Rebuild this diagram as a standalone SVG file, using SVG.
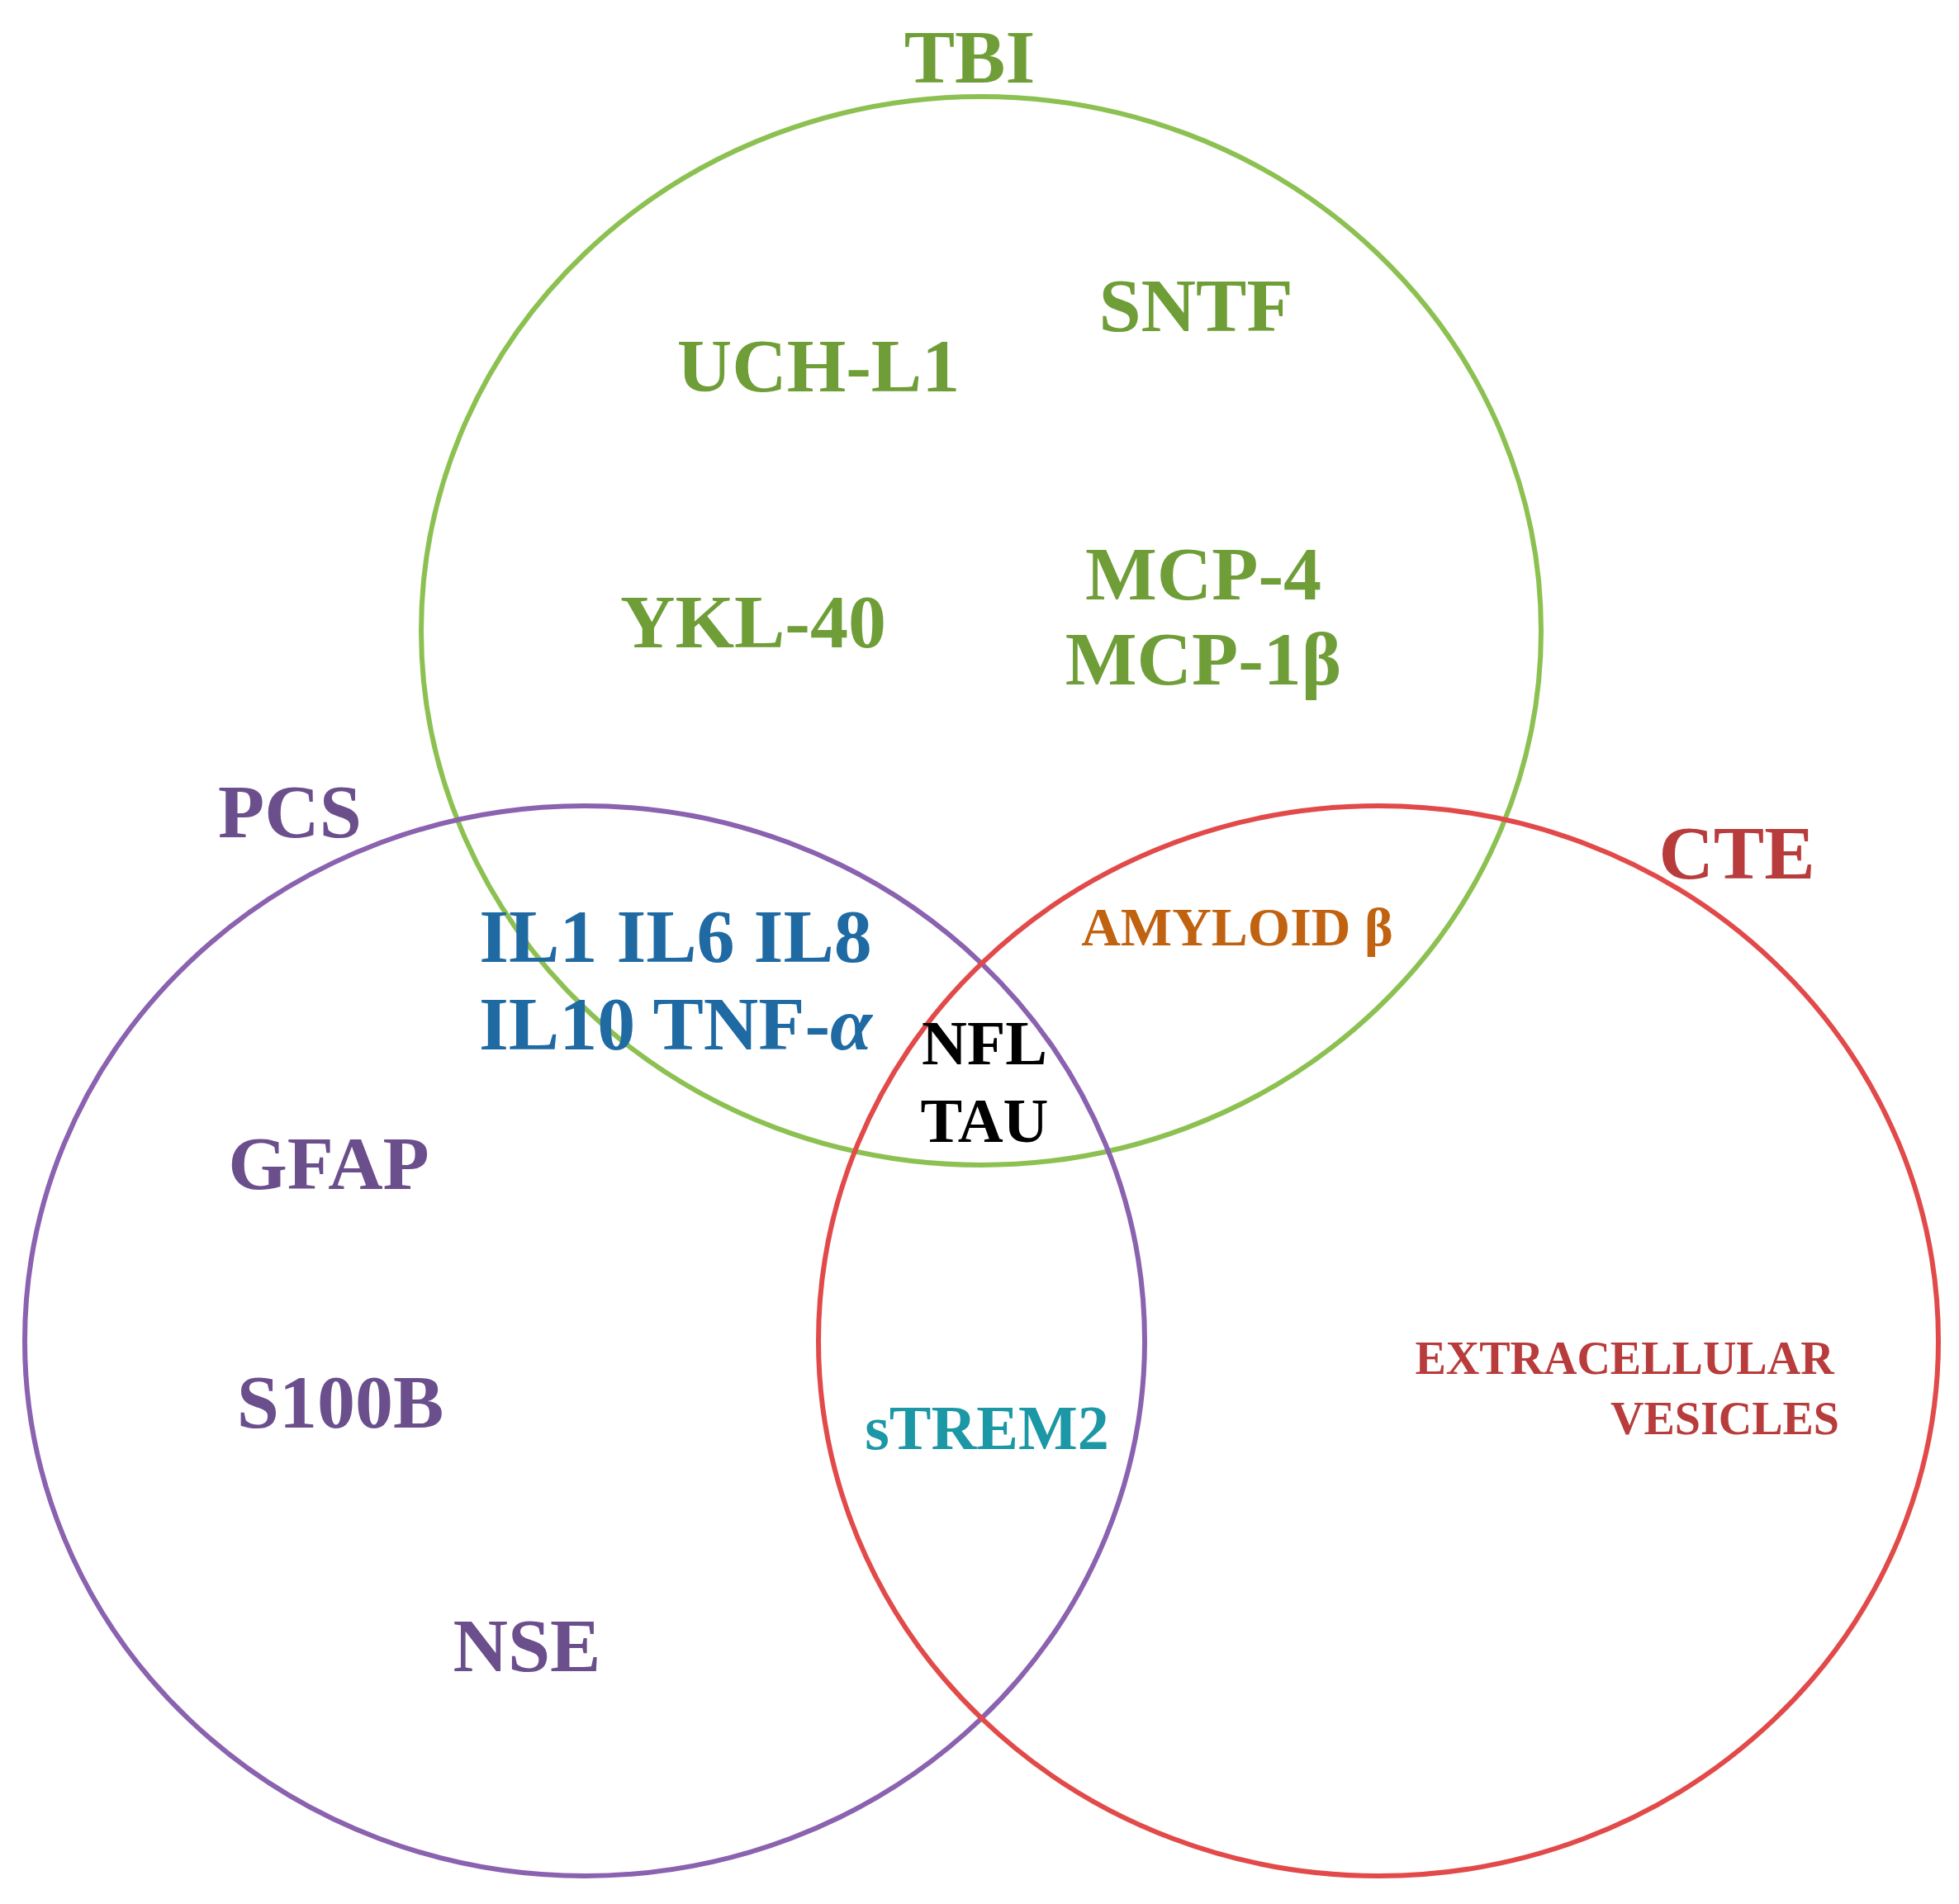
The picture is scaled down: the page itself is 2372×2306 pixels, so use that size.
<svg xmlns="http://www.w3.org/2000/svg" width="2372" height="2306" viewBox="0 0 2372 2306">
<style>
text{font-family:"Liberation Serif",serif;font-weight:bold;text-anchor:middle}
.g{fill:#6f9e38;font-size:92px}
.p{fill:#6b4f8c;font-size:92px}
.b{fill:#1f6aa3;font-size:92px}
.k{fill:#000;font-size:76px}
.c{fill:none;stroke-width:6}
</style>
<rect width="2372" height="2306" fill="#fff"/>
<g id="circles">
<ellipse id="tbi" class="c" cx="1188" cy="764" rx="678" ry="647" stroke="#8cc152"/>
<ellipse id="pcs" class="c" cx="708" cy="1624" rx="678" ry="648" stroke="#8a62b0"/>
<ellipse id="cte" class="c" cx="1669" cy="1624" rx="678" ry="648" stroke="#e24a4a"/>
</g>
<g id="labels">
<text class="g" x="1174" y="100">TBI</text>
<text class="g" x="1448" y="401">SNTF</text>
<text class="g" x="991" y="474">UCH-L1</text>
<text class="g" x="912" y="784">YKL-40</text>
<text class="g" x="1457" y="726">MCP-4</text>
<text class="g" x="1457" y="829">MCP-1β</text>
<text class="p" x="351" y="1014">PCS</text>
<text x="2103" y="1064" style="fill:#b83c3c;font-size:92px">CTE</text>
<text x="1498" y="1145" style="fill:#c0620f;font-size:66px">AMYLOID β</text>
<text class="b" x="818" y="1165">IL1 IL6 IL8</text>
<text class="b" x="818" y="1271">IL10 TNF-<tspan font-style="italic">α</tspan></text>
<text class="k" x="1192" y="1289">NFL</text>
<text class="k" x="1192" y="1383">TAU</text>
<text class="p" x="398" y="1440">GFAP</text>
<text class="p" x="412" y="1729">S100B</text>
<text x="1195" y="1755" style="fill:#1b97a6;font-size:76px">sTREM2</text>
<text x="1967" y="1664" style="fill:#b83c3c;font-size:56px">EXTRACELLULAR</text>
<text x="2227" y="1737" style="fill:#b83c3c;font-size:56px;text-anchor:end">VESICLES</text>
<text class="p" x="638" y="2024">NSE</text>
</g>
</svg>
